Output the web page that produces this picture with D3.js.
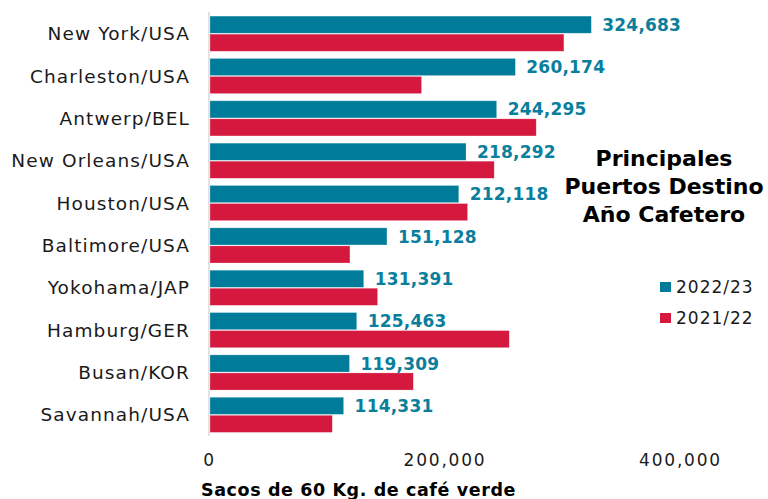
<!DOCTYPE html>
<html>
<head>
<meta charset="utf-8">
<script src="https://cdn.jsdelivr.net/npm/d3@7"></script>
<style>
  body { margin: 0; background: #fff; }
  svg { font-family: "DejaVu Sans", sans-serif; }
</style>
</head>
<body>
<svg id="root" width="768" height="499"></svg>
<script>
(function () {
  // ports, top to bottom
  const ports = ["New York/USA", "Charleston/USA", "Antwerp/BEL", "New Orleans/USA", "Houston/USA",
    "Baltimore/USA", "Yokohama/JAP", "Hamburg/GER", "Busan/KOR", "Savannah/USA"];
  const series = ["2022/23", "2021/22"];
  const values2223 = [324683, 260174, 244295, 218292, 212118, 151128, 131391, 125463, 119309, 114331];
  // no labels in the original
  const values2122 = [301400, 180500, 277900, 242200, 219600, 119700, 143200, 255000, 173500, 104700];
  const xTicks = [0, 200000, 400000];
  const titleLines = ["Principales", "Puertos Destino", "Año Cafetero"];
  const axisTitle = "Sacos de 60 Kg. de café verde";

  const colors = { "2022/23": "#017b9a", "2021/22": "#d5193e" };

  const svg = d3.select("#root");

  const x = d3.scaleLinear().domain([0, 400000]).range([209, 680]);

  const y = d3.scaleBand()
    .domain(ports)
    .range([12.5, 436])
    .paddingInner(0.17)
    .paddingOuter(0.085);

  const ySub = d3.scaleBand()
    .domain(series)
    .range([0, y.bandwidth()])
    .paddingInner(0.05);

  let rows = ports.map((p, i) => ({
    port: p,
    vals: [
      { key: "2022/23", value: values2223[i] },
      { key: "2021/22", value: values2122[i] }
    ]
  }));

  // vertical axis line
  svg.append("line")
    .attr("x1", x(0)).attr("x2", x(0))
    .attr("y1", 12).attr("y2", 436)
    .attr("stroke", "#d9d9d9")
    .attr("stroke-width", 1.5);

  let groups = svg.selectAll(".row")
    .data(rows)
    .enter().append("g")
    .attr("class", "row")
    .attr("transform", d => `translate(0,${y(d.port)})`);

  groups.selectAll("rect")
    .data(d => d.vals)
    .enter().append("rect")
    .attr("x", x(0) + 1)
    .attr("y", d => ySub(d.key))
    .attr("width", d => x(d.value) - x(0) - 1)
    .attr("height", ySub.bandwidth())
    .attr("fill", d => colors[d.key])
    .attr("stroke", "#ffffff")
    .attr("stroke-opacity", 0.4)
    .attr("stroke-width", 0.6);

  // value labels for 2022/23
  groups.append("text")
    .attr("x", d => x(d.vals[0].value) + 11)
    .attr("y", ySub("2022/23") + ySub.bandwidth() / 2)
    .attr("dy", "0.36em")
    .attr("fill", "#0a7f9d")
    .attr("font-weight", "bold")
    .attr("font-size", 17)
    .attr("letter-spacing", 0.2)
    .text(d => d3.format(",")(d.vals[0].value));

  // category labels
  svg.selectAll(".cat")
    .data(ports)
    .enter().append("text")
    .attr("class", "cat")
    .attr("x", 190)
    .attr("y", d => y(d) + y.bandwidth() / 2)
    .attr("dy", "0.36em")
    .attr("text-anchor", "end")
    .attr("font-size", 18.5)
    .attr("letter-spacing", 1.1)
    .attr("fill", "#1a1a1a")
    .text(d => d);

  // x axis
  let axis = svg.append("g")
    .attr("transform", "translate(0,436)")
    .call(d3.axisBottom(x).tickValues(xTicks).tickFormat(d3.format(",")).tickSize(0).tickPadding(18));
  axis.select(".domain").remove();
  axis.selectAll("text")
    .attr("font-family", "DejaVu Sans, sans-serif")
    .attr("font-size", 17)
    .attr("letter-spacing", 1.8)
    .attr("fill", "#1a1a1a");

  svg.append("text")
    .attr("x", 201)
    .attr("y", 496)
    .attr("font-weight", "bold")
    .attr("font-size", 17.5)
    .attr("letter-spacing", 0.6)
    .attr("fill", "#000")
    .text(axisTitle);

  // title
  svg.selectAll(".title")
    .data(titleLines)
    .enter().append("text")
    .attr("class", "title")
    .attr("x", 664)
    .attr("y", (d, i) => 166 + i * 28)
    .attr("text-anchor", "middle")
    .attr("font-weight", "bold")
    .attr("font-size", 22)
    .attr("fill", "#000")
    .text(d => d);

  // legend
  let legend = svg.selectAll(".leg")
    .data(series)
    .enter().append("g")
    .attr("class", "leg")
    .attr("transform", (d, i) => `translate(660,${282 + i * 31})`);

  legend.append("rect")
    .attr("width", 11)
    .attr("height", 10)
    .attr("fill", d => colors[d]);

  legend.append("text")
    .attr("x", 16)
    .attr("y", 5)
    .attr("dy", "0.36em")
    .attr("font-size", 17)
    .attr("letter-spacing", 1)
    .attr("fill", "#1a1a1a")
    .text(d => d);
})();
</script>
</body>
</html>
